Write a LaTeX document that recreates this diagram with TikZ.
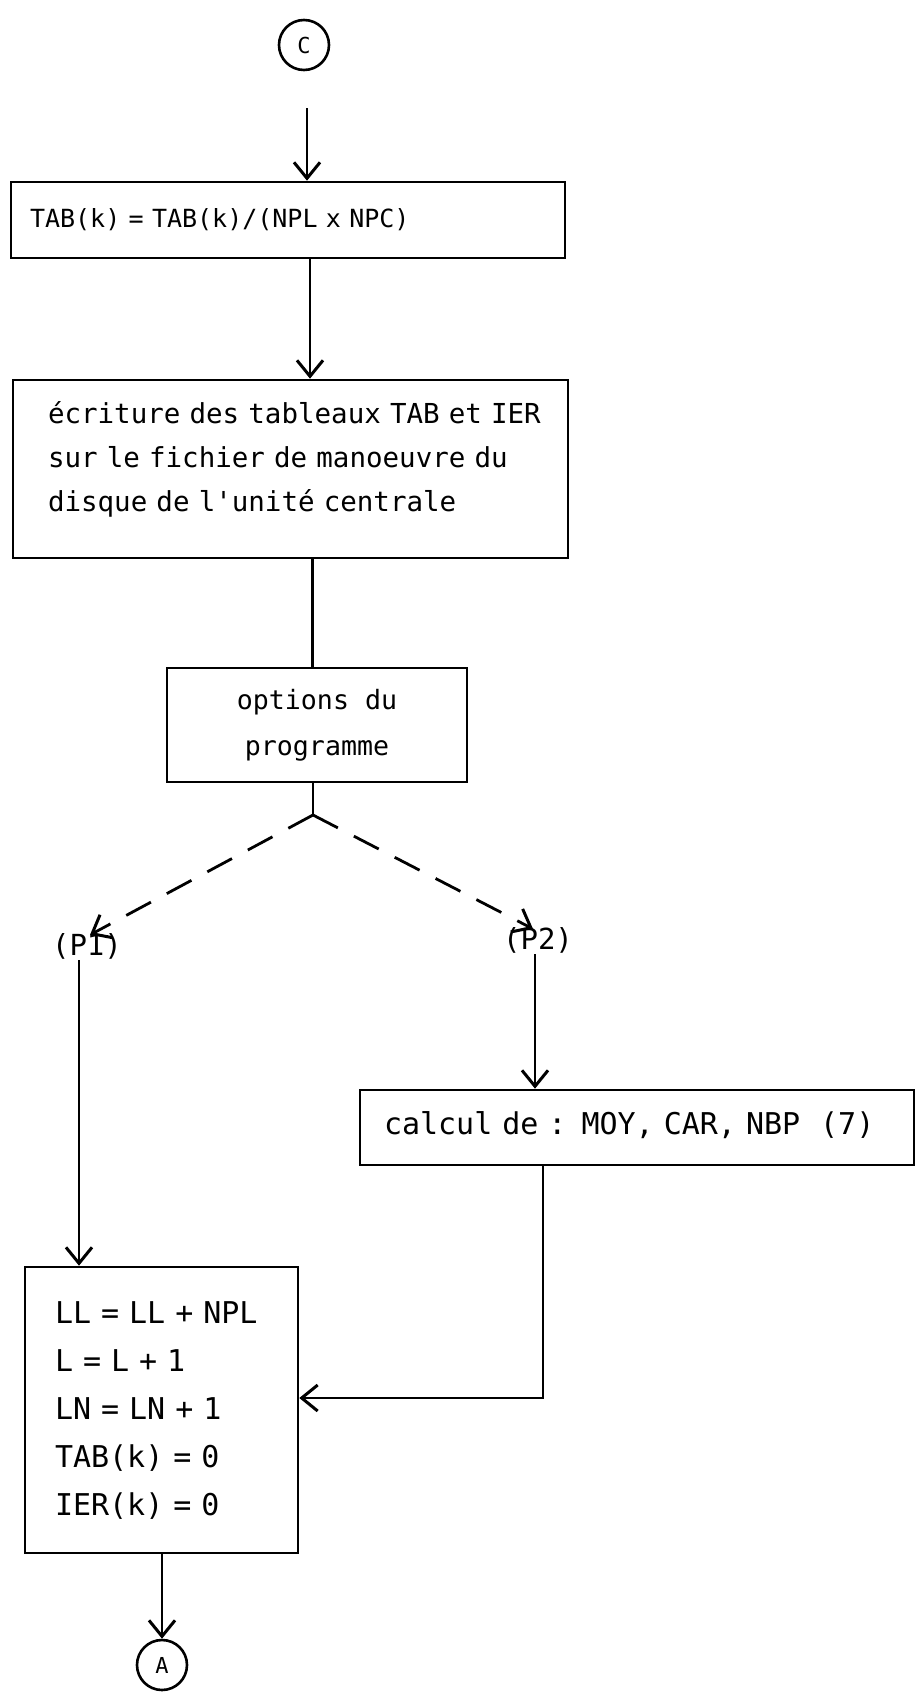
\documentclass[tikz,border=0pt]{standalone}
\usepackage{fontspec}
\setmonofont[WordSpace={1,0,0}]{DejaVu Sans Mono}
\usetikzlibrary{arrows.meta}

\begin{document}
\begin{tikzpicture}[x=1pt, y=-1pt,
    boxNode/.style={draw, line width=2.6pt, rectangle, inner ysep=0pt, align=left},
    connNode/.style={draw, circle, line width=2.6pt, minimum size=50pt, inner sep=0pt,
        font=\fontsize{22}{22}\selectfont\ttfamily},
    flow/.style={line width=2.8pt, -{Straight Barb[length=16pt,width=26pt,line width=3pt]}},
    choice/.style={flow, dash pattern=on 28pt off 18pt}]
    % Define the typewriter fonts
    \def\typeSize#1#2{\fontsize{#1}{#2}\selectfont\ttfamily}
    \def\tabFont{\typeSize{25}{30}}
    \def\writeFont{\typeSize{27.5}{44}}
    \def\optFont{\typeSize{26.6}{46}}
    \def\calcFont{\typeSize{30}{36}}
    \def\llFont{\typeSize{30}{48}}
    \def\labelFont{\typeSize{29}{30}}
    \def\typeLines#1{\begin{tabular}{@{}l@{}}#1\end{tabular}}

    \useasboundingbox (0,0) rectangle (916,1697);

    % Connectors in and out
    \node[connNode] (connC) at (304,45) {C};
    \node[connNode] (connA) at (162,1665) {A};
    \coordinate (entry) at (307,108);
    \coordinate (fork) at (313,815);

    % Draw the boxes
    \node[boxNode, font=\tabFont, inner xsep=19pt, text width=516pt, minimum height=76pt]
        (tabBox) at (288,220) {TAB(k) = TAB(k)/(NPL x NPC)};
    \node[boxNode, font=\writeFont, inner xsep=35pt, text width=485pt, minimum height=178pt]
        (writeBox) at (290.5,469) {\typeLines{écriture des tableaux TAB et IER\\
        sur le fichier de manoeuvre du\\
        disque de l'unité centrale\\[20pt]}};
    \node[boxNode, font=\optFont, align=center, minimum width=300pt, minimum height=114pt]
        (optBox) at (317,725) {options du\\programme};
    \node[boxNode, font=\calcFont, inner xsep=24pt, text width=506pt, minimum height=75pt]
        (calcBox) at (637,1127.5) {\typeLines{calcul de : MOY, CAR, NBP~~(7)}};
    \node[boxNode, font=\llFont, inner xsep=30pt, text width=213pt, minimum height=286pt]
        (llBox) at (161.5,1410) {\typeLines{LL = LL + NPL\\
        L = L + 1\\
        LN = LN + 1\\
        TAB(k) = 0\\
        IER(k) = 0}};

    % Branch labels
    \node[font=\labelFont, inner sep=1pt] (pOne) at (87,946) {(P1)};
    \node[font=\labelFont, inner sep=1pt] (pTwo) at (538,940) {(P2)};

    % Draw the flow
    \draw[flow] (entry) -- (entry |- tabBox.north);
    \draw[flow] ([xshift=22pt]tabBox.south) -- ([xshift=22pt]tabBox.south |- writeBox.north);
    \draw[line width=2.8pt] ([xshift=22pt]writeBox.south) -- ([xshift=22pt]writeBox.south |- optBox.north);
    \draw[line width=2.8pt] (optBox.south -| fork) -- (fork);
    \draw[choice] (fork) -- ([xshift=3pt,yshift=-3pt]pOne.north);
    \draw[choice] (fork) -- ([xshift=-5pt,yshift=-3pt]pTwo.north);
    \draw[flow] ([xshift=-8pt]pOne.south) -- ([xshift=-8pt]pOne.south |- llBox.north);
    \draw[flow] ([xshift=-3pt]pTwo.south) -- ([xshift=-3pt]pTwo.south |- calcBox.north);
    \draw[flow] ([xshift=-94pt]calcBox.south) |- ([yshift=12pt]llBox.east);
    \draw[flow] (connA.north |- llBox.south) -- (connA.north);

\end{tikzpicture}
\end{document}
